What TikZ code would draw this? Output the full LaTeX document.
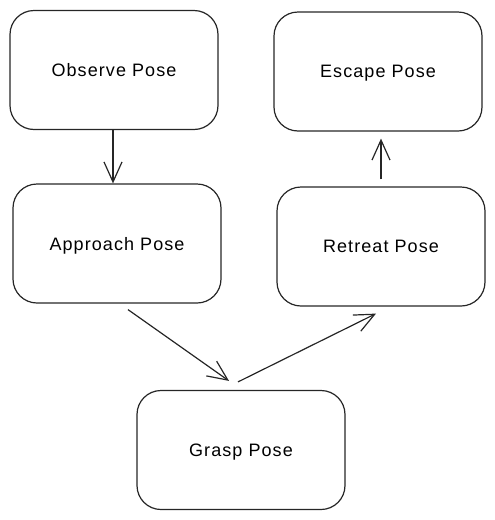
\documentclass[tikz,border=0pt]{standalone}
\usepackage{fontspec}
\setmainfont{Liberation Sans}[LetterSpace=6]
\usetikzlibrary{arrows.meta}
\begin{document}
\begin{tikzpicture}[x=1pt,y=-1pt,
  box/.style={draw=black!85,line width=1.2pt,rounded corners=24pt,minimum width=208pt,minimum height=119pt,inner sep=0pt,text depth=-3pt,font=\fontsize{18}{20}\selectfont},
  arr/.style={draw=black!85,line width=1.2pt,-{Straight Barb[length=20pt,width=18pt,line width=1.2pt]}}]
\useasboundingbox (0,0) rectangle (495,520);
\node[box] (obs) at (114,70) {Observe Pose};
\node[box] (esc) at (378,71.5) {Escape Pose};
\node[box] (app) at (117,243.5) {Approach Pose};
\node[box] (ret) at (381,246.5) {Retreat Pose};
\node[box] (gra) at (241,450) {Grasp Pose};
\draw[arr] ([shift={(-1,0)}]obs.south) -- ([shift={(-1,0)}]obs.south |- app.north);
\draw[arr] ([shift={(0,-7)}]ret.north) -- ([shift={(0,7)}]ret.north |- esc.south);
\draw[arr] ([shift={(11,6)}]app.south) -- ([shift={(-12,-9)}]gra.north);
\draw[arr] ([shift={(-3,-8)}]gra.north) -- ([shift={(-5,7)}]ret.south);
\end{tikzpicture}
\end{document}
